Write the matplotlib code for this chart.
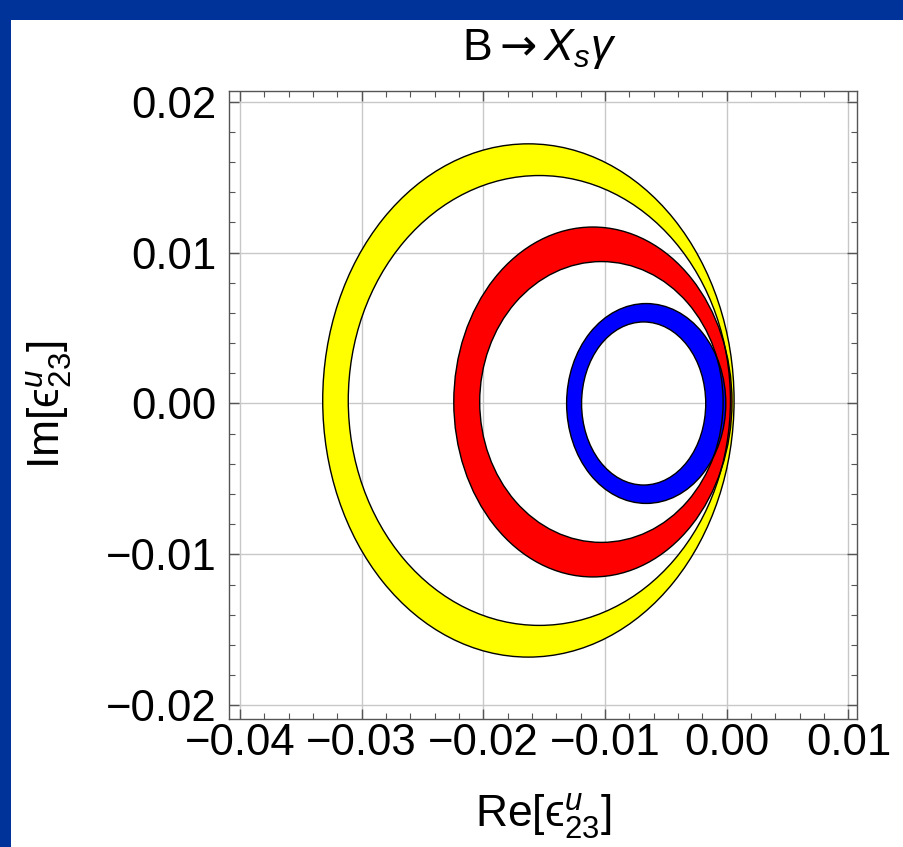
import numpy as np
import matplotlib
matplotlib.use("Agg")
import matplotlib.pyplot as plt
from matplotlib.path import Path
from matplotlib.patches import PathPatch, Ellipse, Rectangle

plt.rcParams['font.family'] = ['Liberation Sans', 'DejaVu Sans']
plt.rcParams['mathtext.fontset'] = 'custom'
plt.rcParams['mathtext.rm'] = 'Liberation Sans'
plt.rcParams['mathtext.it'] = 'Liberation Sans:italic'
plt.rcParams['mathtext.sf'] = 'DejaVu Sans'
plt.rcParams['mathtext.fallback'] = 'stixsans'

# ring boundaries: (center x, center y, semi-axis x, semi-axis y)
ring_names = ["yellow", "red", "blue"]
ring_colors = ["#ffff00", "#ff0000", "#0000ff"]
outer_rings = [(-0.0163, 0.0002, 0.0169, 0.0170),
               (-0.0110, 0.0001, 0.01143, 0.01159),
               (-0.00662, 0.0, 0.00654, 0.00662)]
inner_rings = [(-0.0154, 0.0002, 0.0157, 0.0149),
               (-0.0103, 0.0001, 0.0100, 0.0093),
               (-0.00683, 0.0, 0.0051, 0.0054)]

x_ticks = [-0.04, -0.03, -0.02, -0.01, 0.00, 0.01]
y_ticks = [-0.02, -0.01, 0.00, 0.01, 0.02]
x_tick_labels = ["\u22120.04", "\u22120.03", "\u22120.02", "\u22120.01", "0.00", "0.01"]
y_tick_labels = ["\u22120.02", "\u22120.01", "0.00", "0.01", "0.02"]
xlim = (-0.0409, 0.0107)
ylim = (-0.0209, 0.0207)

title_text = "B$\\mathsf{\\rightarrow}X_s\\gamma$"
xlabel_text = "Re[$\\mathrm{\u03f5}^{u}_{23}$]"
ylabel_text = "Im[$\\mathrm{\u03f5}^{u}_{23}$]"

W, H = 904, 847
fig = plt.figure(figsize=(W/100, H/100), dpi=100)
fig.patch.set_facecolor("#003399")
bg = fig.add_axes([11/W, 0, 1 - 11/W, (H-20)/H], zorder=-10)
bg.set_axis_off()
bg.add_patch(Rectangle((0, 0), 1, 1, transform=bg.transAxes, facecolor="white",
                       edgecolor="none"))
ax = fig.add_axes([229/W, 1 - 719/H, (857-229)/W, (719-91)/H], zorder=1)
ax.set_xlim(*xlim)
ax.set_ylim(*ylim)

t = np.linspace(0, 2*np.pi, 400)

def ellipse_path(cx, cy, a, b, reverse=False):
    tt = t[::-1] if reverse else t
    verts = np.column_stack([cx + a*np.cos(tt), cy + b*np.sin(tt)])
    codes = np.full(len(verts), Path.LINETO)
    codes[0] = Path.MOVETO
    codes[-1] = Path.CLOSEPOLY
    return Path(verts, codes)

for col, o, i in zip(ring_colors, outer_rings, inner_rings):
    p = Path.make_compound_path(ellipse_path(*o), ellipse_path(*i, reverse=True))
    ax.add_patch(PathPatch(p, facecolor=col, edgecolor="none", zorder=2))
for o, i in zip(outer_rings, inner_rings):
    for (cx, cy, a, b) in (o, i):
        ax.add_patch(Ellipse((cx, cy), 2*a, 2*b, fill=False, edgecolor="black",
                             linewidth=1.0, zorder=3))

ax.set_xticks(x_ticks)
ax.set_xticklabels(x_tick_labels)
ax.set_yticks(y_ticks)
ax.set_yticklabels(y_tick_labels)
ax.set_xticks(np.arange(-0.040, 0.0101, 0.002), minor=True)
ax.set_yticks(np.arange(-0.020, 0.0201, 0.002), minor=True)
ax.grid(True, which="major", color="#c8c8c8", linewidth=1.0, zorder=1)
ax.set_axisbelow(True)
ax.tick_params(which="both", direction="in", top=True, right=True,
               color="#555555", labelsize=31.5)
ax.tick_params(axis="x", which="major", pad=3)
ax.tick_params(axis="y", which="major", pad=9)
ax.tick_params(which="major", length=7, width=1)
ax.tick_params(which="minor", length=4, width=0.8)
for s in ax.spines.values():
    s.set_color("#555555")
    s.set_linewidth(1.0)

fig.text(539/W, 1 - 60/H, title_text, fontsize=32, ha="center", va="baseline")
fig.text(543/W, 1 - 827/H, xlabel_text, fontsize=32, ha="center", va="baseline")
fig.text(60/W, 1 - 405/H, ylabel_text, fontsize=32, ha="center", va="baseline",
         rotation=90, rotation_mode="anchor")

fig.savefig("out.png", dpi=100, facecolor=fig.get_facecolor())
